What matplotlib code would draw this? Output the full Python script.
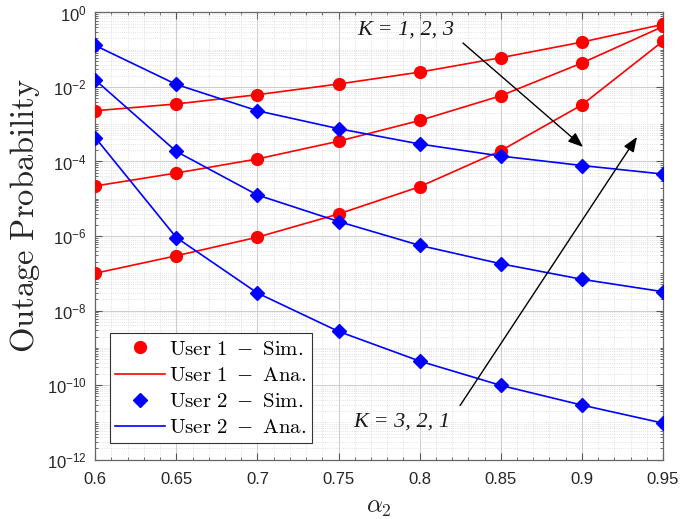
import numpy as np
import matplotlib
matplotlib.use("Agg")
import matplotlib.pyplot as plt
from matplotlib.ticker import FixedLocator, FuncFormatter, MultipleLocator, NullFormatter
from matplotlib.lines import Line2D

alpha2 = [0.6, 0.65, 0.7, 0.75, 0.8, 0.85, 0.9, 0.95]

user1_k1 = [2.3e-3, 3.5e-3, 6.2e-3, 1.2e-2, 2.5e-2, 6.1e-2, 1.6e-1, 4.8e-1]
user1_k2 = [2.2e-5, 4.9e-5, 1.17e-4, 3.5e-4, 1.26e-3, 5.8e-3, 4.4e-2, 4.2e-1]
user1_k3 = [1.0e-7, 2.95e-7, 9.3e-7, 3.9e-6, 2.1e-5, 1.95e-4, 3.3e-3, 1.7e-1]

user2_k1 = [1.3e-1, 1.17e-2, 2.3e-3, 7.6e-4, 2.95e-4, 1.4e-4, 7.8e-5, 4.6e-5]
user2_k2 = [1.55e-2, 1.86e-4, 1.26e-5, 2.45e-6, 5.6e-7, 1.8e-7, 6.9e-8, 3.2e-8]
user2_k3 = [4.4e-4, 9.1e-7, 2.95e-8, 2.75e-9, 4.4e-10, 9.8e-11, 2.9e-11, 9.5e-12]

x_ticks = [0.6, 0.65, 0.7, 0.75, 0.8, 0.85, 0.9, 0.95]
y_tick_exps = [0, -2, -4, -6, -8, -10, -12]
legend_labels = [r"$\mathrm{User\ 1\ -\ Sim.}$", r"$\mathrm{User\ 1\ -\ Ana.}$",
                 r"$\mathrm{User\ 2\ -\ Sim.}$", r"$\mathrm{User\ 2\ -\ Ana.}$"]

plt.rcParams['mathtext.fontset'] = 'cm'
SANS = 'Liberation Sans'
SERIF = 'Liberation Serif'

fig = plt.figure(figsize=(6.8, 5.19), dpi=100)
ax = fig.add_axes([0.14, 0.1145, 0.835, 0.8615])

red = '#ff0000'
blue = '#0000ff'
for s in (user1_k1, user1_k2, user1_k3):
    ax.plot(alpha2, s, '-', color=red, lw=1.2, zorder=3)
    ax.plot(alpha2, s, 'o', color=red, ms=8.5, mec=red, zorder=4)
for s in (user2_k1, user2_k2, user2_k3):
    ax.plot(alpha2, s, '-', color=blue, lw=1.2, zorder=3)
    ax.plot(alpha2, s, 'D', color=blue, ms=7.5, mec=blue, zorder=4)

ax.set_yscale('log')
ax.set_xlim(0.6, 0.95)
ax.set_ylim(1e-12, 1)

ax.xaxis.set_major_locator(FixedLocator(x_ticks))
ax.xaxis.set_minor_locator(MultipleLocator(0.01))
ax.xaxis.set_major_formatter(FuncFormatter(lambda v, p: ('%g' % v)))
ax.yaxis.set_major_locator(FixedLocator([10.0 ** e for e in y_tick_exps]))
minors = []
for e in range(-12, 0):
    for m in range(1, 10):
        if m == 1 and e % 2 == 0:
            continue
        minors.append(m * 10.0 ** e)
ax.yaxis.set_minor_locator(FixedLocator(minors))
ax.yaxis.set_minor_formatter(NullFormatter())
ax.yaxis.set_major_formatter(FuncFormatter(
    lambda v, p: r'$\mathregular{10^{%d}}$' % int(round(np.log10(v)))))

for lab in ax.get_xticklabels() + ax.get_yticklabels():
    lab.set_fontfamily(SANS)
    lab.set_fontsize(12)
    lab.set_color('#262626')

ax.tick_params(which='both', direction='in', top=True, right=True, color='#555555')
ax.tick_params(which='major', length=5, width=0.8)
ax.tick_params(which='minor', length=2.5, width=0.6)
ax.tick_params(axis='x', which='major', pad=9)
ax.tick_params(axis='y', which='major', pad=6)
for sp in ax.spines.values():
    sp.set_color('#666666')
    sp.set_linewidth(0.9)

ax.grid(which='major', color='#cccccc', lw=0.7, ls='-')
ax.grid(which='minor', color='#d8d8d8', lw=0.6, ls=':')
ax.set_axisbelow(True)

ax.set_xlabel(r'$\alpha_2$', fontsize=18, color='#262626', labelpad=6)
ax.set_ylabel(r'$\mathrm{Outage\ Probability}$', fontsize=23.5, color='#262626')
ax.yaxis.set_label_coords(-0.093, 0.545)

handles = [
    Line2D([], [], ls='none', marker='o', color=red, ms=8.5),
    Line2D([], [], ls='-', color=red, lw=1.2),
    Line2D([], [], ls='none', marker='D', color=blue, ms=7.5),
    Line2D([], [], ls='-', color=blue, lw=1.2),
]
leg = ax.legend(handles, legend_labels, loc='lower left', bbox_to_anchor=(0.026, 0.038),
                prop={'size': 15}, fancybox=False, framealpha=1,
                edgecolor='#333333', borderpad=0.25, labelspacing=0.3,
                handlelength=2.4, handletextpad=0.2, borderaxespad=0)
leg.get_frame().set_linewidth(0.8)

ax.annotate('', xy=(0.9007, 10 ** -3.61), xytext=(0.8267, 10 ** -0.82),
            arrowprops=dict(arrowstyle='-|>,head_length=0.9,head_width=0.35', color='k', lw=1.0,
                            shrinkA=0, shrinkB=0))
ax.annotate('', xy=(0.934, 10 ** -3.34), xytext=(0.8249, 10 ** -10.55),
            arrowprops=dict(arrowstyle='-|>,head_length=0.9,head_width=0.35', color='k', lw=1.0,
                            shrinkA=0, shrinkB=0))
ax.text(0.7615, 10 ** -0.47, 'K = 1, 2, 3', fontfamily=SERIF, style='italic', fontsize=16,
        va='center', ha='left', color='#1a1a1a')
ax.text(0.759, 10 ** -10.98, 'K = 3, 2, 1', fontfamily=SERIF, style='italic', fontsize=16,
        va='center', ha='left', color='#1a1a1a')

fig.savefig('out.png', dpi=100)
